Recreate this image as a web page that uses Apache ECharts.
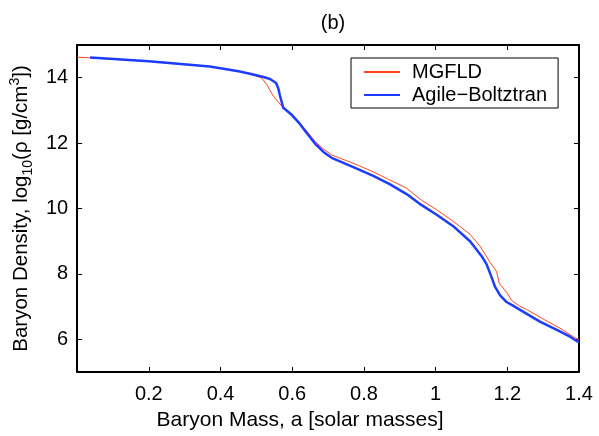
<!DOCTYPE html>
<html>
<head>
<meta charset="utf-8">
<script src="https://cdn.jsdelivr.net/npm/echarts@6/dist/echarts.min.js"></script>
<style>
  html, body { margin: 0; padding: 0; background: #fff; }
  #chart { width: 599px; height: 436px; }
</style>
</head>
<body>
<div id="chart"></div>
<script>
// MGFLD profile (baryon mass vs log10 density)
const mgfldMass = [0, 0.2, 0.37, 0.45, 0.482, 0.515, 0.529, 0.547, 0.571, 0.6, 0.641, 0.664, 0.687, 0.71, 0.733, 0.78, 0.826, 0.873, 0.919, 0.96, 1.003, 1.049, 1.096, 1.124, 1.152, 1.17, 1.178, 1.198, 1.212, 1.231, 1.254, 1.3, 1.347, 1.384, 1.4]
const mgfldDensity = [14.63, 14.5, 14.34, 14.2, 14.12, 13.99, 13.79, 13.44, 13.13, 12.87, 12.36, 12.05, 11.82, 11.64, 11.54, 11.34, 11.12, 10.87, 10.62, 10.26, 9.96, 9.61, 9.21, 8.85, 8.35, 8.08, 7.7, 7.44, 7.19, 7.04, 6.91, 6.62, 6.34, 6.08, 5.98]

// Agile-Boltztran profile
const agileMass = [0.036, 0.2, 0.37, 0.45, 0.482, 0.52, 0.538, 0.555, 0.561, 0.566, 0.575, 0.6, 0.622, 0.641, 0.664, 0.687, 0.71, 0.733, 0.78, 0.826, 0.873, 0.919, 0.96, 1.003, 1.049, 1.096, 1.128, 1.142, 1.156, 1.166, 1.18, 1.198, 1.217, 1.245, 1.291, 1.338, 1.375, 1.4]
const agileDensity = [14.62, 14.5, 14.34, 14.2, 14.12, 14.02, 13.96, 13.84, 13.68, 13.44, 13.08, 12.85, 12.58, 12.3, 11.98, 11.73, 11.55, 11.44, 11.22, 11.0, 10.74, 10.44, 10.11, 9.81, 9.46, 9.0, 8.55, 8.3, 7.9, 7.6, 7.34, 7.14, 7.02, 6.84, 6.54, 6.29, 6.08, 5.9]

const xTicks = [0.2, 0.4, 0.6, 0.8, 1, 1.2, 1.4]
const yTicks = [6, 8, 10, 12, 14]

const pairs = (xs, ys) => xs.map((x, i) => [x, ys[i]])

const font = 'Liberation Sans, Arial, Helvetica, sans-serif'
const axisLine = { show: true, onZero: false, lineStyle: { color: '#000', width: 2 } }
const tick = { show: true, inside: true, length: 5, lineStyle: { color: '#000', width: 1 } }

const chart = echarts.init(document.getElementById('chart'), null, { renderer: 'canvas' })
chart.setOption({
  animation: false,
  backgroundColor: '#fff',
  textStyle: { fontFamily: font },
  title: {
    text: '(b)',
    left: 328,
    top: 8,
    textAlign: 'center',
    textStyle: { fontFamily: font, fontSize: 20, fontWeight: 'normal', color: '#000' }
  },
  grid: { left: 77, right: 20, top: 45, bottom: 61 },
  legend: {
    data: ['MGFLD', 'Agile−Boltztran'],
    orient: 'vertical',
    left: 351,
    top: 58,
    itemWidth: 36,
    itemHeight: 14,
    itemGap: 3,
    padding: [4, 11, 3, 12],
    borderColor: '#000',
    borderWidth: 1,
    backgroundColor: '#fff',
    itemStyle: { opacity: 0 },
    textStyle: { fontFamily: font, fontSize: 20, color: '#000', padding: [0, 0, 0, 7] }
  },
  xAxis: [
    {
      type: 'value',
      min: 0,
      max: 1.4,
      name: 'Baryon Mass, a [solar masses]',
      nameLocation: 'middle',
      nameGap: 38,
      nameTextStyle: { fontFamily: font, fontSize: 21, color: '#000', padding: [0, 56, 0, 0] },
      axisLine: axisLine,
      axisTick: Object.assign({ customValues: xTicks }, tick),
      axisLabel: { customValues: xTicks, margin: 12, fontFamily: font, fontSize: 20, color: '#000' },
      splitLine: { show: false }
    },
    {
      type: 'value',
      position: 'top',
      min: 0,
      max: 1.4,
      axisLine: axisLine,
      axisTick: Object.assign({ customValues: xTicks }, tick),
      axisLabel: { show: false },
      splitLine: { show: false }
    }
  ],
  yAxis: [
    {
      type: 'value',
      min: 5,
      max: 15,
      name: 'Baryon Density, log{sub|10}(ρ [g/cm{sup|3}])',
      nameLocation: 'middle',
      nameGap: 41,
      nameTextStyle: {
        fontFamily: font, fontSize: 20.5, color: '#000', lineHeight: 27,
        rich: {
          sub: { fontFamily: font, fontSize: 14, color: '#000', verticalAlign: 'bottom', lineHeight: 27 },
          sup: { fontFamily: font, fontSize: 14, color: '#000', verticalAlign: 'top', lineHeight: 27 }
        }
      },
      axisLine: axisLine,
      axisTick: Object.assign({ customValues: yTicks }, tick),
      axisLabel: { customValues: yTicks, margin: 9, fontFamily: font, fontSize: 20, color: '#000' },
      splitLine: { show: false }
    },
    {
      type: 'value',
      position: 'right',
      min: 5,
      max: 15,
      axisLine: axisLine,
      axisTick: Object.assign({ customValues: yTicks }, tick),
      axisLabel: { show: false },
      splitLine: { show: false }
    }
  ],
  series: [
    {
      name: 'MGFLD',
      type: 'line',
      data: pairs(mgfldMass, mgfldDensity),
      showSymbol: false,
      symbol: 'none',
      color: '#ff4422',
      lineStyle: { color: '#ff4422', width: 1 },
      z: 2
    },
    {
      name: 'Agile−Boltztran',
      type: 'line',
      data: pairs(agileMass, agileDensity),
      showSymbol: false,
      symbol: 'none',
      color: '#1c3cff',
      lineStyle: { color: '#1c3cff', width: 2.5 },
      z: 3
    }
  ]
})
</script>
</body>
</html>
